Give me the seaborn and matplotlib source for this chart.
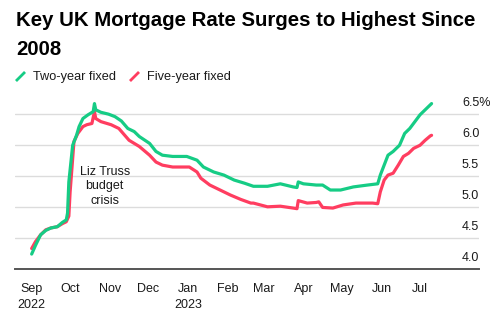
import matplotlib
matplotlib.use("Agg")
import matplotlib.pyplot as plt
from matplotlib.lines import Line2D
from matplotlib.path import Path
from matplotlib.transforms import blended_transform_factory, ScaledTranslation
import seaborn as sns
import pandas as pd

title_lines = ["Key UK Mortgage Rate Surges to Highest Since", "2008"]
series_names = ["Two-year fixed", "Five-year fixed"]
colors = ["#16cc85", "#ff3d60"]

two_dates = ["2022-09-01", "2022-09-04", "2022-09-08", "2022-09-12", "2022-09-16", "2022-09-21",
             "2022-09-25", "2022-09-28", "2022-09-29", "2022-09-30", "2022-10-03", "2022-10-06",
             "2022-10-08", "2022-10-11", "2022-10-15", "2022-10-19", "2022-10-20", "2022-10-21",
             "2022-10-25", "2022-10-31", "2022-11-05", "2022-11-10", "2022-11-15", "2022-11-20",
             "2022-11-24", "2022-12-02", "2022-12-07", "2022-12-12", "2022-12-20", "2022-12-31",
             "2023-01-08", "2023-01-13", "2023-01-21", "2023-01-29", "2023-02-06", "2023-02-14",
             "2023-02-21", "2023-03-04", "2023-03-14", "2023-03-24", "2023-03-27", "2023-03-28",
             "2023-04-01", "2023-04-11", "2023-04-16", "2023-04-22", "2023-04-30", "2023-05-10",
             "2023-05-21", "2023-05-29", "2023-05-31", "2023-06-03", "2023-06-06", "2023-06-10",
             "2023-06-15", "2023-06-19", "2023-06-23", "2023-06-27", "2023-07-01", "2023-07-05",
             "2023-07-09", "2023-07-10"]
two_vals = [4.24, 4.38, 4.55, 4.62, 4.66, 4.68,
            4.75, 4.79, 4.90, 5.40, 5.99, 6.15,
            6.29, 6.42, 6.48, 6.53, 6.66, 6.56,
            6.52, 6.49, 6.45, 6.38, 6.26, 6.21,
            6.13, 6.02, 5.89, 5.83, 5.81, 5.81,
            5.75, 5.64, 5.56, 5.51, 5.43, 5.38,
            5.33, 5.33, 5.37, 5.32, 5.31, 5.40,
            5.37, 5.35, 5.35, 5.27, 5.27, 5.32,
            5.35, 5.37, 5.51, 5.67, 5.83, 5.89,
            5.99, 6.18, 6.26, 6.37, 6.48, 6.56,
            6.64, 6.66]

five_dates = ["2022-09-01", "2022-09-04", "2022-09-08", "2022-09-12", "2022-09-16", "2022-09-21",
              "2022-09-25", "2022-09-28", "2022-09-30", "2022-10-01", "2022-10-04", "2022-10-07",
              "2022-10-11", "2022-10-14", "2022-10-18", "2022-10-20", "2022-10-21", "2022-10-25",
              "2022-11-02", "2022-11-08", "2022-11-16", "2022-11-24", "2022-12-02", "2022-12-07",
              "2022-12-12", "2022-12-20", "2023-01-02", "2023-01-08", "2023-01-11", "2023-01-18",
              "2023-01-26", "2023-02-03", "2023-02-11", "2023-02-19", "2023-02-21", "2023-03-04",
              "2023-03-14", "2023-03-24", "2023-03-27", "2023-03-28", "2023-04-04", "2023-04-11",
              "2023-04-13", "2023-04-16", "2023-04-24", "2023-05-02", "2023-05-12", "2023-05-25",
              "2023-05-29", "2023-05-31", "2023-06-03", "2023-06-06", "2023-06-10", "2023-06-14",
              "2023-06-18", "2023-06-22", "2023-06-26", "2023-07-01", "2023-07-05", "2023-07-09",
              "2023-07-10"]
five_vals = [4.33, 4.44, 4.55, 4.63, 4.66, 4.68,
             4.73, 4.76, 4.85, 5.24, 6.05, 6.18,
             6.29, 6.32, 6.34, 6.53, 6.42, 6.37,
             6.32, 6.26, 6.07, 5.97, 5.83, 5.72,
             5.67, 5.64, 5.64, 5.56, 5.46, 5.35,
             5.27, 5.19, 5.12, 5.06, 5.06, 5.00,
             5.01, 4.98, 4.97, 5.10, 5.06, 5.07,
             5.08, 4.99, 4.98, 5.03, 5.06, 5.06,
             5.05, 5.24, 5.43, 5.51, 5.54, 5.67,
             5.81, 5.86, 5.94, 5.99, 6.07, 6.14,
             6.15]

y_ticks = [4.0, 4.5, 5.0, 5.5, 6.0, 6.5]
y_tick_labels = ["4.0", "4.5", "5.0", "5.5", "6.0", "6.5%"]
x_tick_dates = ["2022-09-01", "2022-10-01", "2022-11-01", "2022-12-01", "2023-01-01",
                "2023-02-01", "2023-03-01", "2023-04-01", "2023-05-01", "2023-06-01", "2023-07-01"]
x_tick_labels = ["Sep\n2022", "Oct", "Nov", "Dec", "Jan\n2023", "Feb", "Mar", "Apr", "May", "Jun", "Jul"]
annotation = "Liz Truss\nbudget\ncrisis"
annotation_pos = ("2022-10-28", 5.33)

df = pd.concat([
    pd.DataFrame({"date": pd.to_datetime(two_dates), "rate": two_vals, "series": series_names[0]}),
    pd.DataFrame({"date": pd.to_datetime(five_dates), "rate": five_vals, "series": series_names[1]}),
])

sns.set_style("white")
plt.rcParams["font.family"] = ["Liberation Sans", "DejaVu Sans"]
text_color = "#1a1a1a"

fig = plt.figure(figsize=(5.0, 3.25), dpi=100)
ax = fig.add_axes([0.03, 0.1723, 0.928, 0.5262])

# draw five-year first so two-year sits on top
sns.lineplot(data=df, x="date", y="rate", hue="series", hue_order=series_names[::-1],
             palette=colors[::-1], linewidth=2.3, legend=False, ax=ax, estimator=None)

ax.set_xlim(pd.Timestamp("2022-08-19"), pd.Timestamp("2023-08-16"))
ax.set_ylim(4.0, 6.75)
ax.set_xlabel("")
ax.set_ylabel("")

for s in ["top", "left", "right"]:
    ax.spines[s].set_visible(False)
ax.spines["bottom"].set_color("#555555")
ax.spines["bottom"].set_linewidth(1.4)

ax.set_yticks(y_ticks)
ax.set_yticklabels([])
ax.tick_params(axis="y", length=0)
ax.grid(axis="y", color="#dcdcdc", linewidth=1.0)
ax.set_axisbelow(True)

ax.set_xticks(pd.to_datetime(x_tick_dates))
ax.set_xticklabels(x_tick_labels, fontsize=9, color=text_color, linespacing=1.45, va="top")
ax.tick_params(axis="x", direction="out", length=4, width=1.2, color="#555555", pad=6)

trans = blended_transform_factory(ax.transAxes, ax.transData) + \
    ScaledTranslation(-17 / 100, 5 / 100, fig.dpi_scale_trans)
for v, lab in zip(y_ticks, y_tick_labels):
    ax.text(1.0, v, lab, transform=trans, ha="left", va="bottom", fontsize=9, color=text_color)

ax.text(pd.Timestamp(annotation_pos[0]), annotation_pos[1], annotation, ha="center", va="center",
        fontsize=9, color=text_color, linespacing=1.25)

fig.text(0.032, 1 - 26.5 / 325, title_lines[0], fontsize=14.7, fontweight="bold",
         color="#000000", va="baseline", ha="left")
fig.text(0.032, 1 - 55 / 325, title_lines[1], fontsize=14.7, fontweight="bold",
         color="#000000", va="baseline", ha="left")

slash = Path([(-1, -1), (1, 1)], [Path.MOVETO, Path.LINETO])
handles = [Line2D([], [], linestyle="none", marker=slash, markersize=6.5, markeredgewidth=2.0,
                  markeredgecolor=c, markerfacecolor="none") for c in colors]
fig.legend(handles, series_names, loc="center left", bbox_to_anchor=(0.03, 1 - 77 / 325),
           ncol=2, frameon=False, fontsize=9.2, handlelength=0.8, handletextpad=0.6,
           columnspacing=1.0, labelcolor=text_color, borderaxespad=0, borderpad=0)

fig.savefig("out.png", dpi=100)
